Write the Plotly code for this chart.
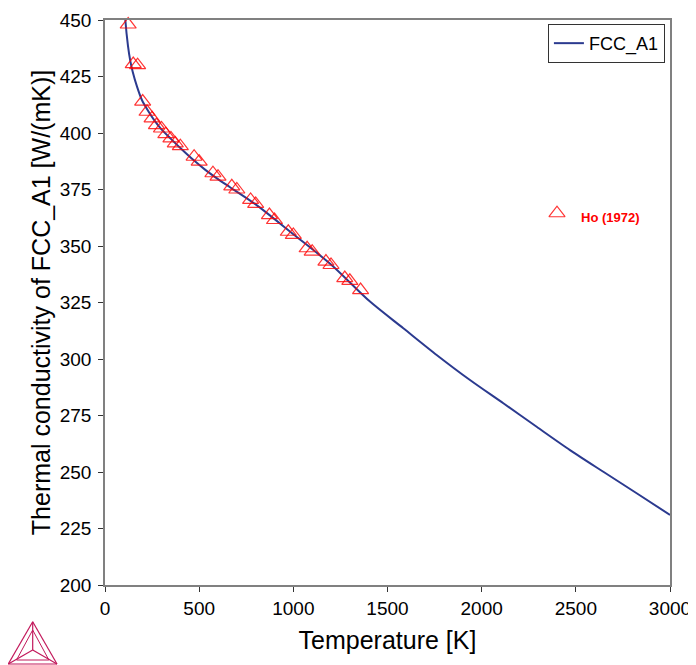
import plotly.graph_objects as go

# ---- data ----
curve_T = [100, 108, 122, 134, 147, 170, 196, 232, 267, 300, 350, 407, 470, 531, 600, 664,
           800, 1000, 1200, 1407, 1584, 1761, 1938, 2115, 2292, 2469, 2646, 2823, 3000]
curve_k = [462, 450, 438.5, 432.0, 427.1, 420.5, 414.6, 409.4, 405.0, 401.6, 397.4, 392.8, 388.0, 383.8,
           379.6, 376.0, 368.4, 355.2, 341.8, 325.4, 313.6, 301.8, 290.7, 280.4, 270.0, 259.7,
           250.1, 240.6, 231.0]

ho_T = [123.15, 150, 173.15, 200, 223.15, 250, 273.15, 300, 323.15, 350, 373.15, 400,
        473.15, 500, 573.15, 600, 673.15, 700, 773.15, 800, 873.15, 900, 973.15, 1000,
        1073.15, 1100, 1173.15, 1200, 1273.15, 1300, 1357]
ho_k = [448.0, 430.5, 430.0, 413.9, 409.4, 406.5, 403.5, 402.0, 399.5, 397.6, 395.4, 394.2,
        389.5, 387.3, 382.2, 380.7, 376.4, 375.0, 370.4, 368.6, 363.7, 361.5, 356.3, 354.9,
        349.0, 347.5, 343.1, 341.6, 335.8, 334.6, 330.5]

x_ticks = [0, 500, 1000, 1500, 2000, 2500, 3000]
y_ticks = [200, 225, 250, 275, 300, 325, 350, 375, 400, 425, 450]

FONT = "Liberation Sans, Arial, sans-serif"
LINE_COLOR = "#2b3a8f"
RED = "rgba(255,0,0,0.8)"

fig = go.Figure()

fig.add_trace(go.Scatter(
    x=curve_T, y=curve_k, mode="lines", name="FCC_A1",
    line=dict(color=LINE_COLOR, width=2, shape="spline", smoothing=0.8),
))

fig.add_trace(go.Scatter(
    x=ho_T, y=ho_k, mode="markers", name="Ho (1972)", showlegend=False,
    marker=dict(symbol="triangle-up-open", size=14, color=RED, line=dict(width=1.2, color=RED)),
    cliponaxis=False,
))

# label marker for the experimental data set
fig.add_trace(go.Scatter(
    x=[2400], y=[364.5], mode="markers", showlegend=False, hoverinfo="skip",
    marker=dict(symbol="triangle-up-open", size=14, color=RED, line=dict(width=1.2, color=RED)),
))
fig.add_annotation(x=2515, y=362.8, xref="x", yref="y", text="<b>Ho (1972)</b>",
                   showarrow=False, xanchor="left", yanchor="middle",
                   font=dict(family=FONT, size=13, color="#ff0000"))

# Thermo-Calc style logo (bottom-left), drawn in paper coordinates
def px(xp):
    return (xp - 105) / 565.0

def py(yp):
    return (585 - yp) / 565.0

LOGO = "#c2185b"
apex = (32.7, 621.7)
bl = (8.3, 664.0)
br = (57.0, 664.0)
cen = (32.7, 650.0)

def seg(a, b, w=1.2):
    fig.add_shape(type="line", xref="paper", yref="paper",
                  x0=px(a[0]), y0=py(a[1]), x1=px(b[0]), y1=py(b[1]),
                  line=dict(color=LOGO, width=w))

seg(apex, bl); seg(bl, br); seg(br, apex)
seg(apex, cen); seg(cen, bl); seg(cen, br)
# inner nested triangle
ia = (32.7, 630.0); ibl = (16.5, 660.0); ibr = (48.9, 660.0)
seg(ia, ibl, 1); seg(ibl, ibr, 1); seg(ibr, ia, 1)

# the page body adds an 8px offset, so the figure is sized to fit the window
fig.update_layout(
    width=688, height=657,
    margin=dict(l=97, r=26, t=12, b=80, autoexpand=False),
    paper_bgcolor="white", plot_bgcolor="white",
    font=dict(family=FONT, color="black"),
    showlegend=True,
    legend=dict(x=0.991, y=0.993, xanchor="right", yanchor="top",
                bgcolor="white", bordercolor="#333333", borderwidth=1,
                font=dict(family=FONT, size=18, color="black"),
                tracegroupgap=0, itemwidth=30),
)

fig.update_xaxes(
    range=[0, 3000], tickvals=x_ticks, ticktext=[str(v) for v in x_ticks],
    automargin=False,
    showgrid=False, zeroline=False,
    showline=True, linecolor="#808080", linewidth=1.5, mirror=True,
    ticks="outside", ticklen=5, tickcolor="#333333", tickwidth=1,
    tickfont=dict(family=FONT, size=19, color="black"),
    title=dict(text="Temperature [K]", font=dict(family=FONT, size=25, color="black"), standoff=14),
)
fig.update_yaxes(
    range=[200, 450], tickvals=y_ticks, ticktext=[str(v) for v in y_ticks],
    automargin=False,
    showgrid=False, zeroline=False,
    showline=True, linecolor="#808080", linewidth=1.5, mirror=True,
    ticks="outside", ticklen=5, tickcolor="#333333", tickwidth=1,
    ticklabelstandoff=3,
    tickfont=dict(family=FONT, size=19, color="black"),
    title=dict(text="Thermal conductivity of FCC_A1 [W/(mK)]",
               font=dict(family=FONT, size=25, color="black"), standoff=2),
)

fig.write_html("out.html")
